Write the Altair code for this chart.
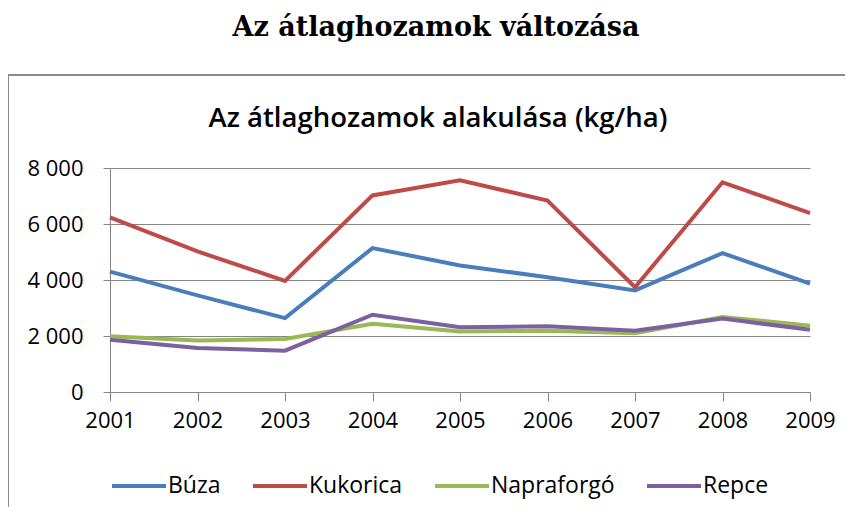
import altair as alt
import pandas as pd

# ---- data ----
years = [2001, 2002, 2003, 2004, 2005, 2006, 2007, 2008, 2009]
buza = [4300, 3450, 2640, 5140, 4520, 4100, 3630, 4960, 3870]
kukorica = [6240, 5020, 3970, 7020, 7560, 6840, 3740, 7490, 6390]
napraforgo = [1990, 1840, 1890, 2440, 2165, 2190, 2100, 2680, 2370]
repce = [1870, 1570, 1475, 2760, 2310, 2345, 2190, 2620, 2225]
series = ["Búza", "Kukorica", "Napraforgó", "Repce"]
colors = ["#4A7EBB", "#BE4B48", "#98B954", "#7D60A0"]
y_ticks = [0, 2000, 4000, 6000, 8000]
outer_title = "Az átlaghozamok változása"
inner_title = "Az átlaghozamok alakulása (kg/ha)"

rows = []
for name, vals in zip(series, [buza, kukorica, napraforgo, repce]):
    for yr, v in zip(years, vals):
        rows.append({"year": yr, "value": v, "series": name})
df = pd.DataFrame(rows)

FONT = "Open Sans"
GRID = "#868686"

lines = alt.Chart(df).mark_line(strokeWidth=4, clip=False).encode(
    x=alt.X("year:Q",
            scale=alt.Scale(domain=[2001, 2009], nice=False, zero=False),
            axis=alt.Axis(values=years, format="d", title=None, grid=False,
                          tickSize=9, tickColor=GRID, domainColor=GRID,
                          labelFontSize=22, labelFont=FONT, labelColor="#000",
                          labelPadding=9, labelFlush=False)),
    y=alt.Y("value:Q",
            scale=alt.Scale(domain=[0, 8000], nice=False),
            axis=alt.Axis(values=y_ticks, title=None,
                          labelExpr="replace(format(datum.value, ','), ',', ' ')",
                          tickSize=7, tickColor=GRID, domainColor=GRID,
                          gridColor=GRID, grid=True,
                          labelFontSize=22, labelFont=FONT, labelColor="#000",
                          labelPadding=20)),
    color=alt.Color("series:N",
                    scale=alt.Scale(domain=series, range=colors),
                    legend=alt.Legend(title=None, orient="none", legendX=0, legendY=289,
                                      direction="horizontal", symbolType="stroke",
                                      symbolSize=2916, symbolStrokeWidth=4,
                                      labelFontSize=23, labelFont=FONT, labelColor="#000",
                                      labelOffset=0, columnPadding=24)),
)

title_df = pd.DataFrame({"t": [outer_title]})
sub_df = pd.DataFrame({"t": [inner_title]})

box = alt.Chart(title_df).mark_rect(fill=None, stroke="#8a8a8a", strokeWidth=2, clip=False).encode(
    x=alt.value(-102), x2=alt.value(800), y=alt.value(-93), y2=alt.value(420)
)

t1 = alt.Chart(title_df).mark_text(font="DejaVu Serif", fontWeight="bold", fontSize=27,
                                   align="center", baseline="alphabetic", color="#000",
                                   clip=False).encode(
    text="t:N", x=alt.value(326), y=alt.value(-132)
)
t2 = alt.Chart(sub_df).mark_text(font=FONT, fontWeight=600, fontSize=27.5,
                                 align="center", baseline="alphabetic", color="#000",
                                 clip=False).encode(
    text="t:N", x=alt.value(328), y=alt.value(-41)
)

chart = alt.layer(box, lines, t1, t2).properties(
    width=700, height=224,
    autosize=alt.AutoSizeParams(type="none"),
    padding={"left": 102, "top": 160, "right": 35, "bottom": 115},
).configure_view(stroke=None)

chart.save("out.html", embed_options={"renderer": "svg", "actions": False})
